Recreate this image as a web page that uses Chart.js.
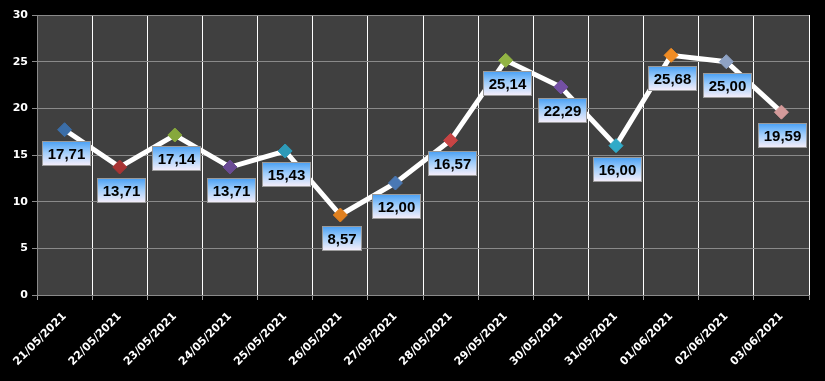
<!DOCTYPE html>
<html>
<head>
<meta charset="utf-8">
<script src="https://cdn.jsdelivr.net/npm/chart.js@4"></script>
<style>
  html, body { margin: 0; padding: 0; background: #000; }
  #wrap { width: 825px; height: 381px; }
</style>
</head>
<body>
<div id="wrap"><canvas id="myChart" width="825" height="381"></canvas></div>
<script>
const dates = ["21/05/2021", "22/05/2021", "23/05/2021", "24/05/2021", "25/05/2021", "26/05/2021", "27/05/2021",
               "28/05/2021", "29/05/2021", "30/05/2021", "31/05/2021", "01/06/2021", "02/06/2021", "03/06/2021"];
const values = [17.71, 13.71, 17.14, 13.71, 15.43, 8.57, 12.00, 16.57, 25.14, 22.29, 16.00, 25.68, 25.00, 19.59];
const markerColors = ["#3b6ea8", "#a83434", "#86a83c", "#6a4b94", "#2e9ab8", "#e0801f", "#4a78b4",
                      "#c84444", "#92b444", "#7450a4", "#30aac8", "#f08c24", "#8ea2c4", "#d49a9a"];
const yTicks = [0, 5, 10, 15, 20, 25, 30];

// dark plot area
const plotBg = {
  id: "plotBg",
  beforeDraw(chart) {
    const { ctx, chartArea: a } = chart;
    ctx.save();
    ctx.fillStyle = "#000";
    ctx.fillRect(0, 0, chart.width, chart.height);
    ctx.fillStyle = "#404040";
    ctx.fillRect(a.left, a.top, a.right - a.left, a.bottom - a.top);
    ctx.restore();
  }
};

// value boxes under each point
const valueBoxes = {
  id: "valueBoxes",
  afterDatasetsDraw(chart) {
    const ctx = chart.ctx;
    const meta = chart.getDatasetMeta(0);
    ctx.save();
    ctx.font = "bold 15px 'Liberation Sans', Arial, sans-serif";
    ctx.textAlign = "center";
    ctx.textBaseline = "middle";
    meta.data.forEach((pt, i) => {
      const txt = values[i].toFixed(2).replace(".", ",");
      const w = Math.round(ctx.measureText(txt).width) + 10;
      const h = 24;
      const x = Math.round(pt.x + 1 - w / 2) + 0.5;
      const y = Math.round(pt.y + 11) + 0.5;
      const g = ctx.createLinearGradient(0, y, 0, y + h);
      g.addColorStop(0, "#4aa0f4");
      g.addColorStop(0.45, "#9fcdfb");
      g.addColorStop(1, "#f6eefa");
      ctx.fillStyle = g;
      ctx.fillRect(x, y, w, h);
      ctx.strokeStyle = "#9a9a9a";
      ctx.lineWidth = 1;
      ctx.strokeRect(x, y, w, h);
      ctx.fillStyle = "#000";
      ctx.fillText(txt, x + w / 2, y + h / 2 + 1);
    });
    ctx.restore();
  }
};

new Chart(document.getElementById("myChart"), {
  type: "line",
  data: {
    labels: dates,
    datasets: [{
      data: values,
      borderColor: "#ffffff",
      borderWidth: 5,
      tension: 0,
      pointStyle: "rectRot",
      pointRadius: 7,
      pointHoverRadius: 7,
      pointBackgroundColor: markerColors,
      pointBorderColor: markerColors,
      pointBorderWidth: 1
    }]
  },
  options: {
    responsive: false,
    animation: false,
    events: [],
    layout: { padding: { top: 15, right: 16, left: 0, bottom: 0 } },
    plugins: { legend: { display: false }, tooltip: { enabled: false } },
    scales: {
      x: {
        offset: true,
        grid: {
          offset: true,
          color: ctx => ctx.index === 0 ? "#8a8a8a" : "#ffffff",
          lineWidth: 1,
          tickLength: 5,
          tickColor: "#9a9a9a"
        },
        border: { color: "#8a8a8a" },
        ticks: {
          color: "#ffffff",
          font: { family: "'DejaVu Sans', sans-serif", size: 11, weight: "bold" },
          maxRotation: 45,
          minRotation: 45,
          autoSkip: false,
          padding: 10
        },
        afterFit: s => { s.height = 86; }
      },
      y: {
        min: 0,
        max: 30,
        afterBuildTicks: s => { s.ticks = yTicks.map(v => ({ value: v })); },
        grid: { color: "#8a8a8a", lineWidth: 1, tickLength: 5, tickColor: "#8a8a8a" },
        border: { color: "#8a8a8a" },
        ticks: {
          color: "#ffffff",
          font: { family: "'DejaVu Sans', sans-serif", size: 11, weight: "bold" },
          padding: 4
        },
        afterFit: s => { s.width = 37; }
      }
    }
  },
  plugins: [plotBg, valueBoxes]
});
</script>
</body>
</html>
